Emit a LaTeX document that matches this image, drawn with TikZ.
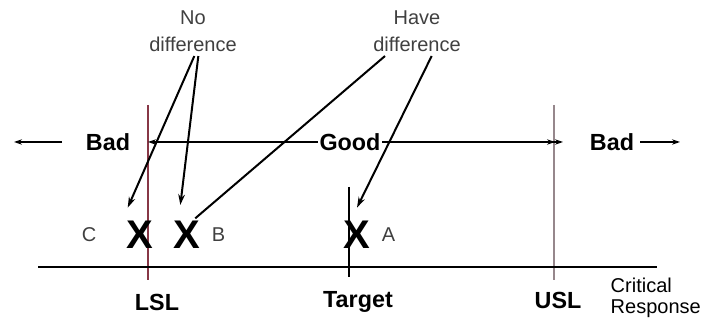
\documentclass[tikz,border=0pt]{standalone}
\usepackage{xcolor}
\usepackage{fontspec}
\setmainfont{Liberation Sans}
\usetikzlibrary{arrows.meta,positioning}

\definecolor{lslred}{RGB}{135,55,70}
\definecolor{uslgray}{RGB}{150,135,140}

\begin{document}
\begin{tikzpicture}[
  x=0.75pt, y=-0.75pt,
  note/.style={align=center, font=\fontsize{15}{20}\selectfont, text=black!75},
  zone/.style={font=\bfseries\fontsize{17.5}{20}\selectfont, inner sep=1pt},
  limit/.style={font=\bfseries\fontsize{17.5}{20}\selectfont},
  xmark/.style={font=\bfseries\fontsize{30}{30}\selectfont, inner sep=0pt},
  sample/.style={font=\fontsize{15}{16}\selectfont, text=black!75},
  pointer/.style={-{Stealth[length=8pt,width=5pt]}, line width=1.5pt},
  zonearrow/.style={-{Stealth[length=6pt,width=4pt]}, line width=1.3pt},
  goodarrow/.style={line width=0.8pt}
]
\useasboundingbox (0,0) rectangle (703,323);

% notes on top
\node[note] (nodiff) at (193,31) {No\\difference};
\node[note] (havediff) at (417,31) {Have\\difference};

% spec limits and target
\draw[lslred, line width=1pt] (148,105) coordinate (lsltop) -- (148,280) coordinate (lslbot);
\draw[uslgray, line width=1pt] (554,105) coordinate (usltop) -- (554,280) coordinate (uslbot);
\draw[line width=1pt] (349,187) coordinate (tgttop) -- (349,277) coordinate (tgtbot);

% zones
\node[zone] (badl) at (108,142) {Bad};
\node[zone] (good) at (350,142) {Good};
\node[zone] (badr) at (612,142) {Bad};
\coordinate (farl) at (14,142);
\coordinate (nearl) at (62,142);
\coordinate (nearr) at (640,142);
\coordinate (farr) at (680,142);
\coordinate (goodl) at (148,142);
\coordinate (goodr) at (563,142);

\draw[zonearrow] (nearl) -- (farl);
\draw[zonearrow] (nearr) -- (farr);
\draw[goodarrow, -{Stealth[length=6pt,width=4pt]}] (good.west) -- (goodl);
\draw[goodarrow, -{Stealth[length=6pt,width=4pt] Stealth[length=6pt,width=4pt]}] (good.east) -- (goodr);

% axis
\coordinate (axl) at (38,267);
\coordinate (axr) at (657,267);
\draw[line width=1.3pt] (axl) -- (axr);

% samples
\node[xmark] (xc) at (140,235) {X};
\node[xmark] (xb) at (187,235) {X};
\node[xmark] (xa) at (357,235) {X};
\node[sample, left=19pt of xc] (c) {C};
\node[sample, right=5pt of xb] (b) {B};
\node[sample, right=5pt of xa] (a) {A};

% labels below
\node[limit] (lsl) at (157,302) {LSL};
\node[limit] (target) at (358,302) {Target};
\node[limit] (usl) at (558,300) {USL};
\node[sample, text=black, align=left, anchor=west] (crit) at (606,298) {Critical\\Response};

% pointers
\draw[pointer] ([xshift=1pt]nodiff.south) -- ([xshift=1pt,yshift=10pt]xc.north west);
\draw[pointer] ([xshift=4pt]nodiff.south) -- ([xshift=-5pt,yshift=12pt]xb.north);
\draw[line width=1.5pt] ([xshift=-24pt]havediff.south) -- ([xshift=-4pt,yshift=2pt]xb.north east);
\draw[pointer] ([xshift=11pt]havediff.south) -- ([yshift=10pt]xa.north);
\end{tikzpicture}
\end{document}
